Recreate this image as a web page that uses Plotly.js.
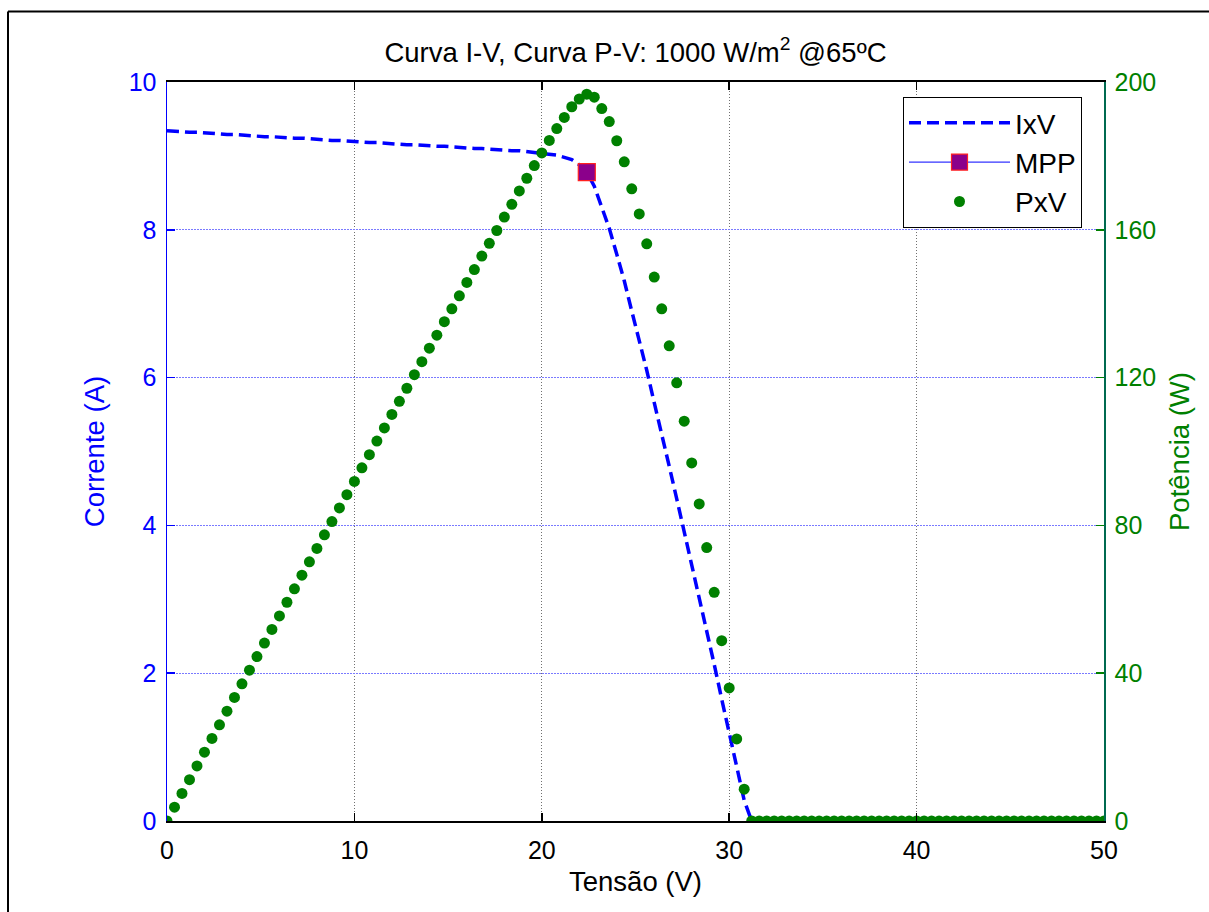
<!DOCTYPE html>
<html>
<head>
<meta charset="utf-8">
<script src="https://cdn.plot.ly/plotly-3.0.1.min.js"></script>
<style>html,body{margin:0;padding:0;background:#fff;}#chart{width:1209px;height:912px;}</style>
</head>
<body>
<div id="chart"></div>
<script>
// Voltage samples (V)
const tensao = [0,0.4,0.8,1.2,1.6,2,2.4,2.8,3.2,3.6,4,4.4,4.8,5.2,5.6,6,6.4,6.8,7.2,7.6,8,8.4,8.8,9.2,9.6,10,10.4,10.8,11.2,11.6,12,12.4,12.8,13.2,13.6,14,14.4,14.8,15.2,15.6,16,16.4,16.8,17.2,17.6,18,18.4,18.8,19.2,19.6,20,20.4,20.8,21.2,21.6,22,22.4,22.8,23.2,23.6,24,24.4,24.8,25.2,25.6,26,26.4,26.8,27.2,27.6,28,28.4,28.8,29.2,29.6,30,30.4,30.8,31.2,31.6,32,32.4,32.8,33.2,33.6,34,34.4,34.8,35.2,35.6,36,36.4,36.8,37.2,37.6,38,38.4,38.8,39.2,39.6,40,40.4,40.8,41.2,41.6,42,42.4,42.8,43.2,43.6,44,44.4,44.8,45.2,45.6,46,46.4,46.8,47.2,47.6,48,48.4,48.8,49.2,49.6,50];
// Current (A)
const corrente = [9.34,9.33,9.33,9.32,9.32,9.31,9.31,9.30,9.29,9.29,9.28,9.28,9.27,9.26,9.26,9.25,9.25,9.24,9.24,9.23,9.22,9.22,9.21,9.21,9.20,9.19,9.19,9.18,9.18,9.17,9.17,9.16,9.15,9.15,9.14,9.14,9.13,9.13,9.12,9.11,9.11,9.10,9.10,9.09,9.08,9.08,9.07,9.07,9.06,9.05,9.04,9.03,9.01,8.98,8.95,8.88,8.78,8.59,8.31,8.02,7.67,7.31,6.90,6.52,6.10,5.66,5.25,4.80,4.36,3.92,3.46,3.02,2.57,2.12,1.65,1.20,0.73,0.28,0,0,0,0,0,0,0,0,0,0,0,0,0,0,0,0,0,0,0,0,0,0,0,0,0,0,0,0,0,0,0,0,0,0,0,0,0,0,0,0,0,0,0,0,0,0,0,0];
// Power (W)
const potencia = [0,3.73,7.46,11.18,14.91,18.62,22.34,26.04,29.73,33.44,37.12,40.83,44.50,48.15,51.86,55.50,59.20,62.83,66.53,70.15,73.76,77.45,81.05,84.73,88.32,91.90,95.58,99.14,102.82,106.37,110.04,113.58,117.12,120.78,124.30,127.96,131.47,135.12,138.62,142.12,145.76,149.24,152.88,156.35,159.81,163.44,166.89,170.52,173.95,177.38,180.8,184.2,187.4,190.4,193.3,195.4,196.7,195.9,192.8,189.3,184.1,178.4,171.1,164.3,156.2,147.2,138.6,128.6,118.6,108.2,96.9,85.8,74.0,61.9,48.8,36.0,22.2,8.6,0,0,0,0,0,0,0,0,0,0,0,0,0,0,0,0,0,0,0,0,0,0,0,0,0,0,0,0,0,0,0,0,0,0,0,0,0,0,0,0,0,0,0,0,0,0,0,0];
// Maximum power point
const mppV = [22.4];
const mppI = [8.78];

const xTicks = [0,10,20,30,40,50];
const yTicks = [0,2,4,6,8,10];
const y2Ticks = [0,40,80,120,160,200];

const FONT = 'Liberation Sans, Arial, Helvetica, sans-serif';
const FS = 25;
const FT = 27.5;

const traces = [
  {x: tensao, y: corrente, name: 'IxV', type: 'scatter', mode: 'lines',
   line: {color: '#0000ff', width: 3.5, dash: '12px,6px'}, xaxis: 'x', yaxis: 'y', legendgroup: 'a'},
  {x: mppV, y: mppI, name: 'MPP', type: 'scatter', mode: 'lines+markers',
   line: {color: '#0000ff', width: 1},
   marker: {symbol: 'square', size: 17, color: '#8b008b', line: {color: '#ff2020', width: 1.2}},
   xaxis: 'x', yaxis: 'y', legendgroup: 'b'},
  {x: tensao, y: potencia, name: 'PxV', type: 'scatter', mode: 'markers',
   marker: {symbol: 'circle', size: 11, color: '#008000'}, xaxis: 'x', yaxis: 'y2', legendgroup: 'c'}
];

const L = 167, R = 1104, T = 82, B = 821;
const px2x = p => (p - L) / (R - L);
const py2y = p => (B - p) / (B - T);

const layout = {
  width: 1209, height: 912,
  margin: {l: L, r: 1209 - R, t: T, b: 912 - B, pad: 0},
  paper_bgcolor: '#ffffff', plot_bgcolor: '#ffffff',
  font: {family: FONT, size: FS, color: '#000'},
  showlegend: true,
  title: {text: 'Curva I-V, Curva P-V: 1000 W/m<sup>2</sup> @65ºC', font: {family: FONT, size: FT, color: '#000'},
          x: 0.5, xref: 'paper', xanchor: 'center', y: 1 - 52/912, yref: 'container', yanchor: 'middle'},
  xaxis: {range: [0, 50], tickvals: xTicks, ticks: 'inside', ticklen: 8, tickwidth: 1.5, tickcolor: '#000',
          showline: true, linecolor: '#000', linewidth: 2, mirror: 'ticks',
          showgrid: true, gridcolor: '#707070', gridwidth: 1, griddash: '1px,2px', zeroline: false,
          tickfont: {family: FONT, size: FS, color: '#000'}, ticklabelstandoff: 6,
          title: {text: 'Tensão (V)', font: {family: FONT, size: FT, color: '#000'}, standoff: 9}},
  yaxis: {range: [0, 10], tickvals: yTicks, ticks: 'inside', ticklen: 8, tickwidth: 1.5, tickcolor: '#0000ff',
          showline: true, linecolor: '#0000ff', linewidth: 1.5, mirror: false,
          showgrid: true, gridcolor: '#7a7aff', gridwidth: 1, griddash: '2px,1px', zeroline: false,
          tickfont: {family: FONT, size: FS, color: '#0000ff'}, ticklabelstandoff: 4,
          title: {text: 'Corrente (A)', font: {family: FONT, size: FT, color: '#0000ff'}, standoff: 16}},
  yaxis2: {range: [0, 200], tickvals: y2Ticks, overlaying: 'y', side: 'right', anchor: 'x',
           ticks: 'inside', ticklen: 8, tickwidth: 1.5, tickcolor: '#008000',
           showline: true, linecolor: '#006a50', linewidth: 1.5, showgrid: false, zeroline: false,
           tickfont: {family: FONT, size: FS, color: '#008000'}, ticklabelstandoff: 4,
           title: {text: 'Potência (W)', font: {family: FONT, size: FT, color: '#008000'}, standoff: 14}},
  legend: {x: px2x(903), y: py2y(97), xanchor: 'left', yanchor: 'top',
           bgcolor: '#ffffff', bordercolor: '#000', borderwidth: 1,
           font: {family: FONT, size: 28, color: '#000'}, itemwidth: 101, tracegroupgap: 9,
           traceorder: 'normal'},
  shapes: [
    {type: 'line', xref: 'paper', yref: 'paper', x0: px2x(8), x1: px2x(8), y0: py2y(920), y1: py2y(11.5),
     line: {color: '#000', width: 2}},
    {type: 'line', xref: 'paper', yref: 'paper', x0: px2x(8), x1: px2x(1215), y0: py2y(11.5), y1: py2y(11.5),
     line: {color: '#000', width: 2}}
  ]
};

Plotly.newPlot('chart', traces, layout, {staticPlot: true, displayModeBar: false});
</script>
</body>
</html>
